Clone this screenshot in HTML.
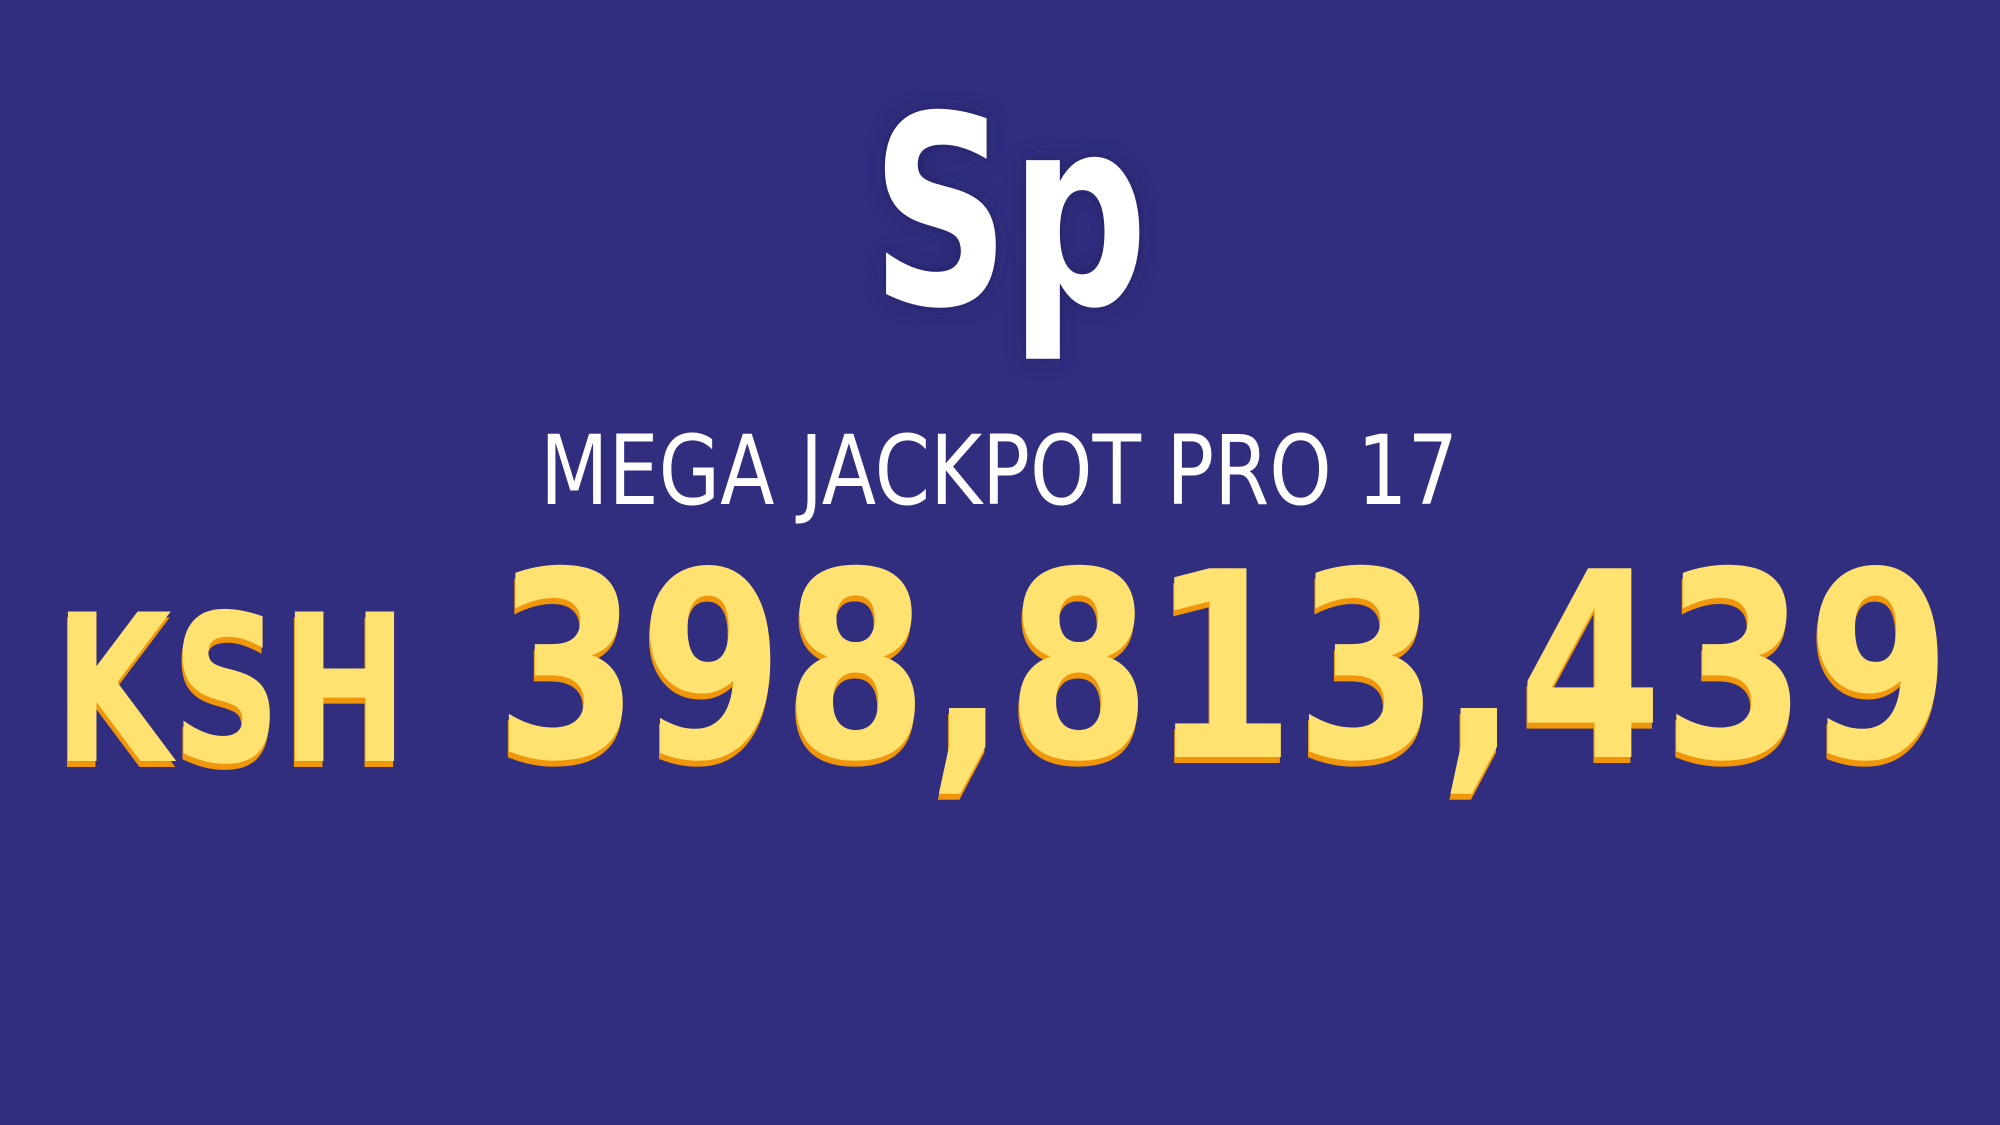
<!DOCTYPE html>
<html><head><meta charset="utf-8"><style>
html,body{margin:0;padding:0;background:#312e80;}
svg{display:block}
</style></head><body>
<svg width="2000" height="1125" viewBox="0 0 2000 1125">
<defs><filter id="glow" x="-30%" y="-30%" width="160%" height="160%"><feGaussianBlur stdDeviation="10"/></filter></defs>
<rect width="2000" height="1125" fill="#312e80"/>
<g>
<text x="871" y="304" textLength="277" lengthAdjust="spacingAndGlyphs" font-family="DejaVu Sans, sans-serif" font-weight="bold" font-size="263" fill="#1d1a55" opacity="0.6" filter="url(#glow)">Sp</text>
<text x="871" y="304" textLength="277" lengthAdjust="spacingAndGlyphs" font-family="DejaVu Sans, sans-serif" font-weight="bold" font-size="263" fill="#ffffff">Sp</text>
</g>
<text x="540" y="504" textLength="918" lengthAdjust="spacingAndGlyphs" font-family="DejaVu Sans, sans-serif" font-size="96" fill="#ffffff">MEGA JACKPOT PRO 17</text>
<g font-family="DejaVu Sans, sans-serif" font-weight="bold" font-size="205">
<text x="53" y="767" textLength="354" lengthAdjust="spacingAndGlyphs" fill="#f0960a">KSH</text>
<text x="54" y="761" textLength="354" lengthAdjust="spacingAndGlyphs" fill="#ffe270">KSH</text>
</g>
<g font-family="DejaVu Sans, sans-serif" font-weight="bold" font-size="259">
<text x="494" y="763" textLength="1456" lengthAdjust="spacingAndGlyphs" fill="#f0960a">398,813,439</text>
<text x="495" y="757" textLength="1456" lengthAdjust="spacingAndGlyphs" fill="#ffe270">398,813,439</text>
</g>
</svg>
</body></html>
